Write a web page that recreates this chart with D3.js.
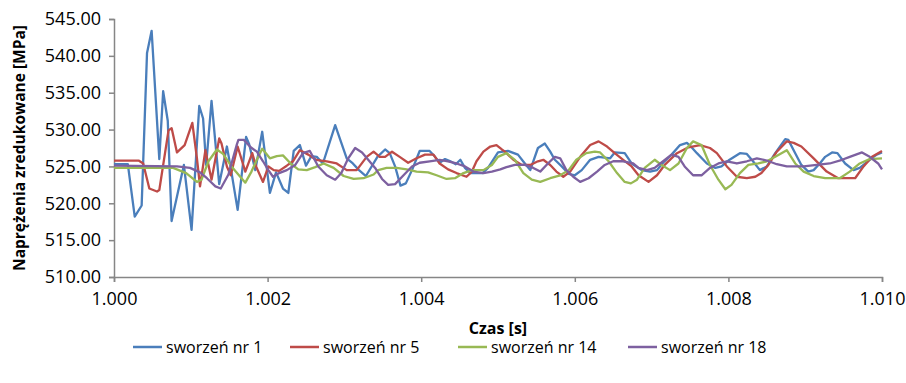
<!DOCTYPE html>
<html>
<head>
<meta charset="utf-8">
<script src="https://cdn.jsdelivr.net/npm/d3@7"></script>
<style>
  body { margin: 0; background: #fff; }
  svg { display: block; font-family: "Open Sans", sans-serif; }
</style>
</head>
<body>
<div id="chart"></div>
<script>
// time [s], stress [MPa]
const s1 = [[1.00000,525.3],[1.00018,525.3],[1.00027,518.2],[1.00036,519.7],[1.00043,540.4],[1.00049,543.4],[1.00059,526.0],[1.00064,535.2],[1.00070,531.2],[1.00075,517.6],[1.00091,525.2],[1.00101,516.4],[1.00111,533.2],[1.00116,531.5],[1.00120,525.2],[1.00127,533.9],[1.00137,522.6],[1.00147,527.7],[1.00152,524.8],[1.00161,519.1],[1.00172,529.0],[1.00176,528.0],[1.00184,524.5],[1.00193,529.7],[1.00203,521.4],[1.00211,524.2],[1.00220,522.0],[1.00227,521.4],[1.00234,527.1],[1.00242,527.9],[1.00250,525.1],[1.00257,526.4],[1.00264,526.3],[1.00272,525.4],[1.00288,530.6],[1.00303,526.1],[1.00311,525.4],[1.00319,524.5],[1.00328,523.7],[1.00343,526.3],[1.00353,527.3],[1.00359,526.8],[1.00366,525.0],[1.00373,522.4],[1.00380,522.7],[1.00388,524.5],[1.00398,527.1],[1.00411,527.1],[1.00418,526.3],[1.00424,525.5],[1.00431,526.0],[1.00438,525.7],[1.00445,525.3],[1.00451,525.9],[1.00457,524.8],[1.00464,524.1],[1.00480,524.1],[1.00487,524.8],[1.00500,526.9],[1.00513,527.1],[1.00526,526.6],[1.00535,525.4],[1.00542,524.5],[1.00552,527.5],[1.00561,528.1],[1.00568,527.0],[1.00574,525.9],[1.00583,525.0],[1.00592,524.0],[1.00600,523.8],[1.00609,524.5],[1.00620,525.9],[1.00631,526.3],[1.00646,526.1],[1.00652,526.9],[1.00665,526.8],[1.00674,525.4],[1.00687,524.5],[1.00698,524.3],[1.00707,524.5],[1.00715,525.5],[1.00726,526.6],[1.00737,527.9],[1.00746,528.2],[1.00752,527.6],[1.00759,526.8],[1.00772,525.4],[1.00783,524.8],[1.00791,525.0],[1.00800,525.8],[1.00815,526.8],[1.00824,526.7],[1.00832,525.7],[1.00841,524.5],[1.00850,525.0],[1.00861,526.8],[1.00874,528.7],[1.00878,528.6],[1.00887,526.8],[1.00895,525.2],[1.00904,524.3],[1.00911,524.5],[1.00919,525.4],[1.00926,526.3],[1.00935,526.9],[1.00942,526.8],[1.00952,525.4],[1.00963,524.5],[1.00971,524.8],[1.00984,525.9],[1.00993,526.6],[1.01000,526.9]];

const s5 = [[1.00000,525.8],[1.00032,525.8],[1.00038,525.4],[1.00046,522.0],[1.00056,521.6],[1.00059,521.8],[1.00071,529.9],[1.00075,530.2],[1.00082,526.9],[1.00092,527.9],[1.00102,530.9],[1.00108,526.1],[1.00112,522.3],[1.00119,527.2],[1.00127,523.2],[1.00137,528.8],[1.00140,528.1],[1.00147,525.0],[1.00152,523.8],[1.00161,527.7],[1.00171,524.3],[1.00180,526.8],[1.00185,525.0],[1.00194,522.9],[1.00201,525.0],[1.00208,524.5],[1.00215,524.4],[1.00225,525.1],[1.00233,525.7],[1.00242,527.2],[1.00253,526.6],[1.00263,525.9],[1.00277,525.7],[1.00290,525.4],[1.00303,524.5],[1.00316,524.5],[1.00329,526.3],[1.00338,527.0],[1.00346,526.3],[1.00353,526.3],[1.00362,527.0],[1.00372,526.3],[1.00383,525.5],[1.00394,526.1],[1.00405,526.6],[1.00416,526.6],[1.00424,525.4],[1.00435,524.6],[1.00446,524.1],[1.00459,523.6],[1.00466,524.3],[1.00472,525.7],[1.00481,527.0],[1.00490,527.7],[1.00498,527.9],[1.00505,527.3],[1.00509,527.0],[1.00520,525.9],[1.00531,525.2],[1.00542,525.2],[1.00552,525.7],[1.00559,525.9],[1.00568,525.2],[1.00576,524.3],[1.00585,523.6],[1.00594,524.3],[1.00607,526.3],[1.00620,527.9],[1.00631,528.4],[1.00642,527.7],[1.00652,526.8],[1.00663,525.9],[1.00674,525.0],[1.00683,523.8],[1.00696,522.9],[1.00707,523.8],[1.00717,525.2],[1.00733,526.8],[1.00748,527.6],[1.00763,527.9],[1.00776,527.5],[1.00785,526.8],[1.00798,525.0],[1.00811,523.6],[1.00824,523.4],[1.00835,523.6],[1.00843,524.1],[1.00852,525.2],[1.00863,527.0],[1.00876,528.4],[1.00885,528.2],[1.00895,527.7],[1.00911,526.1],[1.00928,524.3],[1.00943,523.4],[1.00965,523.4],[1.00976,525.0],[1.00987,526.3],[1.01000,527.1]];

const s14 = [[1.00000,524.8],[1.00077,524.8],[1.00094,524.1],[1.00108,522.9],[1.00114,523.2],[1.00123,525.7],[1.00134,527.3],[1.00142,526.7],[1.00153,525.0],[1.00171,522.8],[1.00179,524.3],[1.00186,525.9],[1.00193,527.4],[1.00203,526.1],[1.00212,526.4],[1.00220,526.5],[1.00231,525.3],[1.00240,524.6],[1.00251,524.5],[1.00262,524.9],[1.00273,525.4],[1.00286,524.8],[1.00299,523.7],[1.00312,523.3],[1.00325,523.4],[1.00338,523.9],[1.00344,524.5],[1.00355,524.8],[1.00368,524.8],[1.00381,524.6],[1.00394,524.3],[1.00409,524.2],[1.00420,523.8],[1.00433,523.3],[1.00444,523.4],[1.00455,524.1],[1.00466,524.5],[1.00481,524.5],[1.00492,525.2],[1.00500,526.3],[1.00511,526.8],[1.00522,525.9],[1.00533,524.1],[1.00544,523.2],[1.00555,522.9],[1.00568,523.4],[1.00581,523.8],[1.00592,524.5],[1.00602,525.9],[1.00615,526.8],[1.00626,527.0],[1.00633,526.9],[1.00644,525.7],[1.00655,524.1],[1.00665,522.9],[1.00673,522.7],[1.00681,523.2],[1.00691,524.8],[1.00704,525.9],[1.00713,525.2],[1.00724,524.5],[1.00735,525.4],[1.00746,527.5],[1.00754,528.4],[1.00765,527.9],[1.00776,525.2],[1.00787,523.2],[1.00796,521.9],[1.00804,522.5],[1.00815,524.1],[1.00826,525.2],[1.00839,525.4],[1.00850,525.7],[1.00861,526.3],[1.00876,527.2],[1.00887,525.4],[1.00898,524.3],[1.00911,523.7],[1.00926,523.4],[1.00945,523.4],[1.00958,524.3],[1.00971,525.4],[1.00984,526.0],[1.01000,526.1]];

const s18 = [[1.00000,525.1],[1.00082,525.0],[1.00099,524.8],[1.00112,524.2],[1.00121,523.4],[1.00132,522.3],[1.00139,522.0],[1.00149,523.9],[1.00160,528.0],[1.00162,528.6],[1.00169,528.6],[1.00178,527.6],[1.00186,527.0],[1.00194,525.7],[1.00201,524.5],[1.00207,523.6],[1.00215,524.1],[1.00225,524.5],[1.00236,525.2],[1.00246,526.8],[1.00255,527.1],[1.00266,525.0],[1.00277,523.8],[1.00288,523.2],[1.00296,524.1],[1.00305,526.1],[1.00314,527.5],[1.00323,526.9],[1.00331,525.9],[1.00340,524.8],[1.00349,523.3],[1.00357,522.5],[1.00366,522.6],[1.00377,523.8],[1.00388,525.0],[1.00398,525.5],[1.00411,525.7],[1.00424,525.9],[1.00435,525.7],[1.00446,525.4],[1.00457,525.0],[1.00468,524.3],[1.00481,524.1],[1.00492,524.3],[1.00503,524.6],[1.00511,524.9],[1.00522,525.2],[1.00535,525.2],[1.00546,524.8],[1.00555,524.3],[1.00565,525.4],[1.00574,526.3],[1.00581,526.1],[1.00589,524.5],[1.00598,523.6],[1.00607,522.9],[1.00618,523.4],[1.00629,524.3],[1.00639,525.2],[1.00650,525.7],[1.00663,525.7],[1.00676,525.4],[1.00683,524.8],[1.00694,524.5],[1.00704,524.8],[1.00715,525.7],[1.00726,526.6],[1.00735,526.3],[1.00743,525.0],[1.00754,523.8],[1.00765,523.8],[1.00776,524.8],[1.00787,525.4],[1.00798,525.7],[1.00811,525.4],[1.00824,525.7],[1.00837,526.1],[1.00850,525.8],[1.00863,525.3],[1.00876,525.0],[1.00898,525.0],[1.00915,525.2],[1.00932,525.4],[1.00948,525.9],[1.00958,526.3],[1.00974,526.9],[1.00984,526.3],[1.00995,525.4],[1.01000,524.6]];

const seriesNames = ["sworzeń nr 1", "sworzeń nr 5", "sworzeń nr 14", "sworzeń nr 18"];
const seriesColors = ["#4a7ebb", "#be4b48", "#98b954", "#7d60a0"];
const seriesData = [s1, s5, s14, s18];

const xTicks = [1.000, 1.002, 1.004, 1.006, 1.008, 1.010];
const yTicks = [510, 515, 520, 525, 530, 535, 540, 545];

const margin = { top: 19, right: 24, bottom: 106, left: 114 },
  width = 906 - margin.left - margin.right,
  height = 383 - margin.top - margin.bottom;

const root = d3
  .select("#chart")
  .append("svg")
  .attr("width", 906)
  .attr("height", 383);

const svg = root
  .append("g")
  .attr("transform", "translate(" + margin.left + "," + margin.top + ")");

const x = d3.scaleLinear().domain([1.0, 1.01]).range([0, width]);
const y = d3.scaleLinear().domain([510, 545]).range([height, 0]);

const axisColor = "#868686";

const yAxis = svg
  .append("g")
  .call(d3.axisLeft(y).tickValues(yTicks).tickFormat(d3.format(".2f")).tickSizeOuter(0).tickSize(5).tickPadding(8));

const xAxis = svg
  .append("g")
  .attr("transform", "translate(0," + height + ")")
  .call(d3.axisBottom(x).tickValues(xTicks).tickFormat(d3.format(".3f")).tickSizeOuter(0).tickSize(5).tickPadding(10));

[xAxis, yAxis].forEach((g) => {
  g.selectAll("path").attr("stroke", axisColor).attr("stroke-width", 1.5);
  g.selectAll("line").attr("stroke", axisColor).attr("stroke-width", 1.5);
  g.selectAll("text")
    .attr("fill", "#000")
    .style("font-size", "18px")
    .style("font-family", "'Open Sans', sans-serif");
});

const line = d3
  .line()
  .x((d) => x(d[0]))
  .y((d) => y(d[1]));

svg
  .append("g")
  .selectAll("path")
  .data(seriesData)
  .enter()
  .append("path")
  .attr("d", line)
  .attr("fill", "none")
  .attr("stroke", (d, i) => seriesColors[i])
  .attr("stroke-width", 2.3)
  .attr("stroke-linejoin", "round");

// axis titles
root
  .append("text")
  .attr("transform", "translate(25," + (margin.top + height / 2) + ") rotate(-90)")
  .attr("text-anchor", "middle")
  .style("font-size", "15.5px")
  .style("font-weight", "bold")
  .text("Naprężenia zredukowane [MPa]");

root
  .append("text")
  .attr("x", margin.left + width / 2)
  .attr("y", 334)
  .attr("text-anchor", "middle")
  .style("font-size", "16px")
  .style("font-weight", "bold")
  .text("Czas [s]");

// legend
const legendStarts = [133, 290, 458, 628];
const legend = root.append("g").attr("transform", "translate(0,347)");
seriesNames.forEach((name, i) => {
  const item = legend.append("g").attr("transform", "translate(" + legendStarts[i] + ",0)");
  item
    .append("line")
    .attr("x1", 0)
    .attr("x2", 29)
    .attr("stroke", seriesColors[i])
    .attr("stroke-width", 2.5);
  item
    .append("text")
    .attr("x", 33)
    .attr("y", 6)
    .style("font-size", "16px")
    .text(name);
});
</script>
</body>
</html>
